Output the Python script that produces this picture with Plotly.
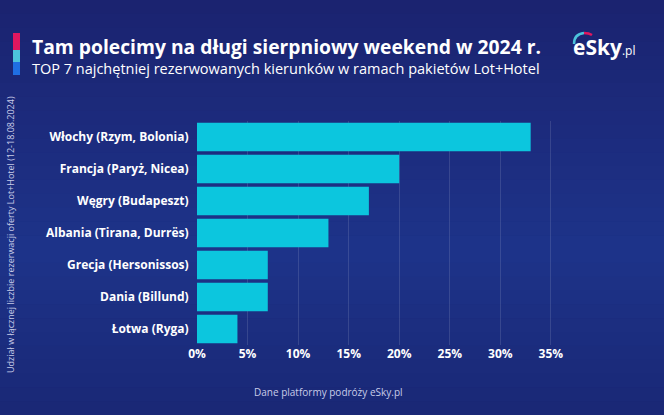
import plotly.graph_objects as go

# Dane
kierunki = ["Włochy (Rzym, Bolonia)", "Francja (Paryż, Nicea)", "Węgry (Budapeszt)",
            "Albania (Tirana, Durrës)", "Grecja (Hersonissos)", "Dania (Billund)", "Łotwa (Ryga)"]
udzial = [33, 20, 17, 13, 7, 7, 4]
ticki = [0, 5, 10, 15, 20, 25, 30, 35]
ticki_txt = [f"{t}%" for t in ticki]

tytul = "Tam polecimy na długi sierpniowy weekend w 2024 r."
podtytul = "TOP 7 najchętniej rezerwowanych kierunków w ramach pakietów Lot+Hotel"
os_y = "Udział w łącznej liczbie rezerwacji oferty Lot+Hotel (12-18.08.2024)"
zrodlo = "Dane platformy podróży eSky.pl"

FONT = "Open Sans"
W, H = 664, 415
L, R, T, B = 197, 103, 121, 70
PW, PH = W - L - R, H - T - B


# pozycje w pikselach -> wspolrzedne paper
def px_x(x):
    return (x - L) / PW


def px_y(y):
    return (H - B - y) / PH


fig = go.Figure(go.Bar(
    x=udzial, y=kierunki, orientation="h",
    marker_color="#0cc6de", marker_line_width=0,
))

fig.update_layout(
    width=W, height=H,
    margin=dict(l=L, r=R, t=T, b=B),
    paper_bgcolor="#1b2370", plot_bgcolor="rgba(0,0,0,0)",
    bargap=0.107, showlegend=False,
    font=dict(family=FONT, color="white"),
)
fig.update_xaxes(range=[0, 36], tickvals=ticki, ticktext=ticki_txt,
                 showgrid=True, gridcolor="rgba(255,255,255,0.12)", gridwidth=1,
                 zeroline=False, showline=False,
                 tickfont=dict(size=12, family=FONT, weight="bold", color="white"))
fig.update_yaxes(autorange="reversed", showgrid=False, zeroline=False, showline=False,
                 ticks="outside", ticklen=5, tickcolor="rgba(0,0,0,0)",
                 tickfont=dict(size=12, family=FONT, weight="bold", color="white"))

# Tlo - prosty gradient w pasach
top, mid, bot = (27, 35, 112), (30, 52, 138), (26, 40, 118)
n = 30
for i in range(n):
    y0 = i * H / n
    yc = y0 + H / n / 2
    if yc < 250:
        f = yc / 250
        c = [int(top[k] + (mid[k] - top[k]) * f) for k in range(3)]
    else:
        f = (yc - 250) / (H - 250)
        c = [int(mid[k] + (bot[k] - mid[k]) * f) for k in range(3)]
    fig.add_shape(type="rect", xref="paper", yref="paper",
                  x0=px_x(0), x1=px_x(W), y0=px_y(y0 + H / n + 0.5), y1=px_y(y0),
                  fillcolor=f"rgb({c[0]},{c[1]},{c[2]})", line_width=0, layer="below")

# Pasek z kolorami przy tytule
for y0, y1, c in [(33, 50, "#e0175f"), (50, 62, "#4cc3dc"), (62, 75, "#1f6fe3")]:
    fig.add_shape(type="rect", xref="paper", yref="paper",
                  x0=px_x(13), x1=px_x(20), y0=px_y(y1), y1=px_y(y0),
                  fillcolor=c, line_width=0, layer="above")

# Luk w logo
fig.add_shape(type="path", xref="paper", yref="paper",
              path=f"M {px_x(574)} {px_y(44)} Q {px_x(574)} {px_y(34)} {px_x(584)} {px_y(33)}",
              line=dict(color="#4cc3dc", width=2.5), layer="above")
fig.add_shape(type="path", xref="paper", yref="paper",
              path=f"M {px_x(584)} {px_y(33)} Q {px_x(589)} {px_y(33)} {px_x(592)} {px_y(35)}",
              line=dict(color="#e0175f", width=2.5), layer="above")

fig.add_annotation(text=f"<b>{tytul}</b>", xref="paper", yref="paper",
                   x=px_x(31), y=px_y(46), xanchor="left", yanchor="middle", borderpad=0,
                   showarrow=False, font=dict(size=19.3, color="white", family=FONT))
fig.add_annotation(text=podtytul, xref="paper", yref="paper",
                   x=px_x(31), y=px_y(68), xanchor="left", yanchor="middle", borderpad=0,
                   showarrow=False, font=dict(size=14.5, color="white", family=FONT))
fig.add_annotation(text="<b>eSky</b><span style='font-size:12px'>.pl</span>",
                   xref="paper", yref="paper",
                   x=px_x(571), y=px_y(47), xanchor="left", yanchor="middle",
                   showarrow=False, font=dict(size=21, color="white", family=FONT))

fig.add_annotation(text=os_y, xref="paper", yref="paper", textangle=-90,
                   x=px_x(10), y=px_y(235), xanchor="center", yanchor="middle",
                   showarrow=False, font=dict(size=9, color="#c8cce8", family=FONT))
fig.add_annotation(text=zrodlo, xref="paper", yref="paper",
                   x=px_x(328), y=px_y(392), xanchor="center", yanchor="middle",
                   showarrow=False, font=dict(size=10, color="#c8cce8", family=FONT))

fig.write_html("out.html", config={"displayModeBar": False},
               post_script="document.body.style.margin='0';")
